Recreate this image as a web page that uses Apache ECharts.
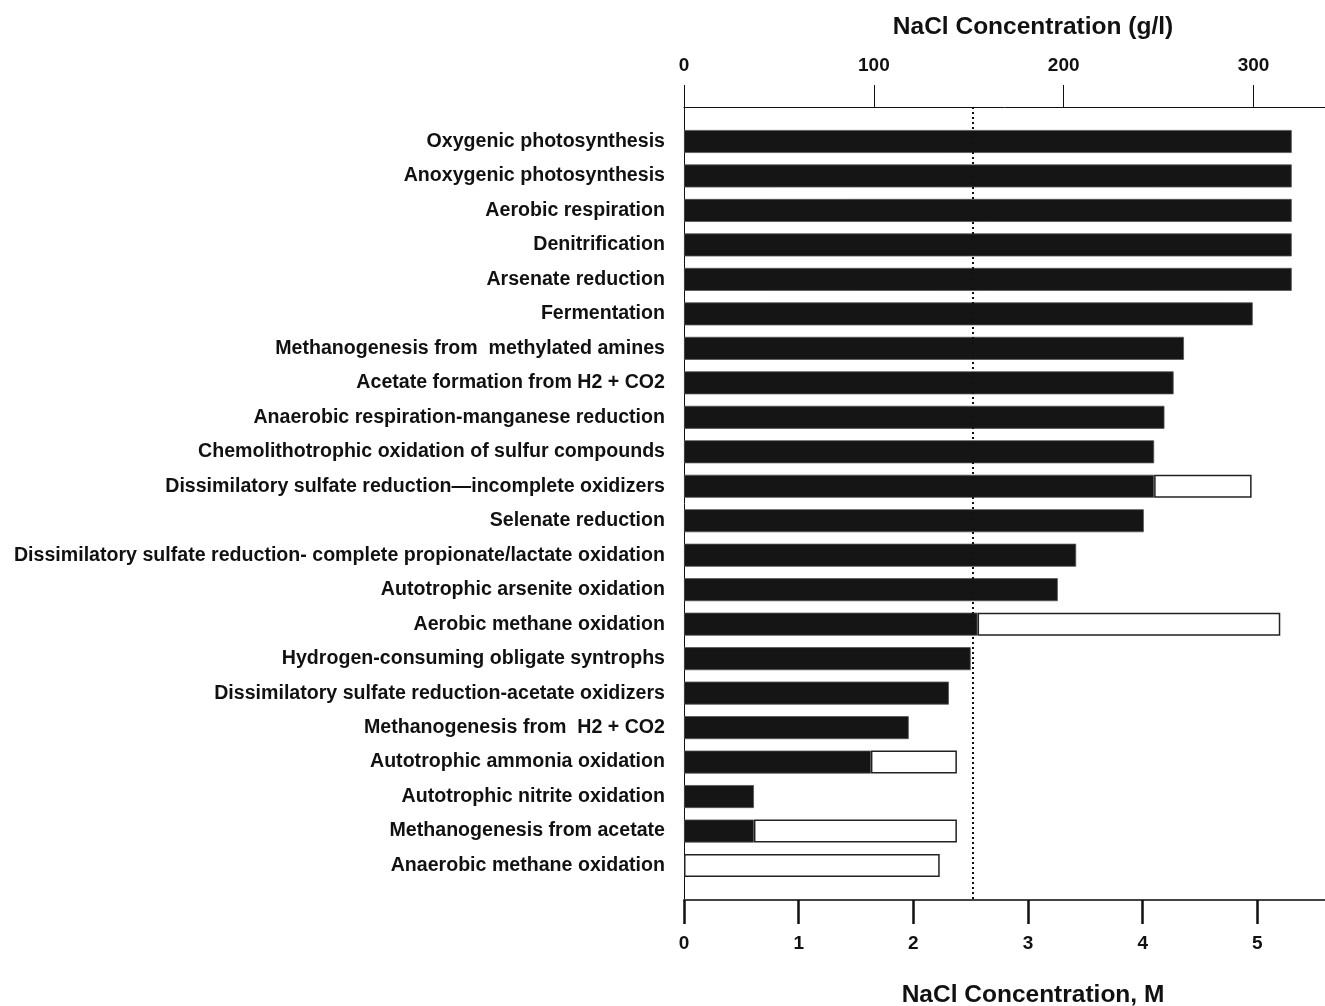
<!DOCTYPE html>
<html>
<head>
<meta charset="utf-8">
<script src="https://cdn.jsdelivr.net/npm/echarts@6/dist/echarts.min.js"></script>
<style>
html,body{margin:0;padding:0;background:#fff;}
#chart{width:1325px;height:1006px;}
</style>
</head>
<body>
<div id="chart"></div>
<script>
// Processes (top to bottom)
const categories = [
  "Oxygenic photosynthesis",
  "Anoxygenic photosynthesis",
  "Aerobic respiration",
  "Denitrification",
  "Arsenate reduction",
  "Fermentation",
  "Methanogenesis from  methylated amines",
  "Acetate formation from H2 + CO2",
  "Anaerobic respiration-manganese reduction",
  "Chemolithotrophic oxidation of sulfur compounds",
  "Dissimilatory sulfate reduction\u2014incomplete oxidizers",
  "Selenate reduction",
  "Dissimilatory sulfate reduction- complete propionate/lactate oxidation",
  "Autotrophic arsenite oxidation",
  "Aerobic methane oxidation",
  "Hydrogen-consuming obligate syntrophs",
  "Dissimilatory sulfate reduction-acetate oxidizers",
  "Methanogenesis from  H2 + CO2",
  "Autotrophic ammonia oxidation",
  "Autotrophic nitrite oxidation",
  "Methanogenesis from acetate",
  "Anaerobic methane oxidation"
];
// Upper NaCl limit (M) confirmed in culture (black bars)
const cultureLimit = [5.30, 5.30, 5.30, 5.30, 5.30, 4.96, 4.36, 4.27, 4.19, 4.10, 4.10, 4.01, 3.42, 3.26, 2.56, 2.50, 2.31, 1.96, 1.63, 0.61, 0.61, 0];
// Upper NaCl limit (M) from activity measurements (end of open bars), null = none
const activityLimit = [null, null, null, null, null, null, null, null, null, null, 4.95, null, null, null, 5.20, null, null, null, 2.38, null, 2.38, 2.23];
const bottomTicks = [0, 1, 2, 3, 4, 5];
const topTicks = [0, 100, 200, 300];
const gPerM = 60.4;        // conversion used between the two axes
const refLine = 2.52;      // dotted reference line (M)
const maxM = 5.59;

const font = "'Liberation Sans',Arial,sans-serif";

const padCats = [''].concat(categories, ['']);
const blackData = [null].concat(cultureLimit.map(v => v > 0 ? v : null), [null]);
const whiteData = [null].concat(activityLimit.map((v, i) => v == null ? null : +(v - cultureLimit[i]).toFixed(3)), [null]);

const chart = echarts.init(document.getElementById('chart'), null, {renderer: 'canvas'});
chart.setOption({
  animation: false,
  backgroundColor: '#fff',
  title: [
    {text: 'NaCl Concentration (g/l)', left: 1028, top: 10, textAlign: 'center',
     textStyle: {fontFamily: font, fontSize: 24.5, fontWeight: 'bold', color: '#111'}},
    {text: 'NaCl Concentration, M', left: 1028, top: 978, textAlign: 'center',
     textStyle: {fontFamily: font, fontSize: 24.5, fontWeight: 'bold', color: '#111'}}
  ],
  grid: {left: 684, right: 0, top: 107, bottom: 106, containLabel: false, outerBoundsMode: 'none'},
  xAxis: [
    {type: 'value', position: 'bottom', min: 0, max: maxM, interval: 1,
     axisLine: {show: true, lineStyle: {color: '#444', width: 2}},
     axisTick: {show: true, length: 24, customValues: bottomTicks, lineStyle: {color: '#111', width: 2.5}},
     axisLabel: {margin: 34, customValues: bottomTicks, fontFamily: font, fontSize: 19, fontWeight: 'bold', color: '#111'},
     splitLine: {show: false}},
    {type: 'value', position: 'top', min: 0, max: maxM * gPerM, interval: 100,
     axisLine: {show: true, lineStyle: {color: '#111', width: 1}},
     axisTick: {show: true, length: 22, customValues: topTicks, lineStyle: {color: '#111', width: 1}},
     axisLabel: {margin: 32, customValues: topTicks, fontFamily: font, fontSize: 19, fontWeight: 'bold', color: '#111'},
     splitLine: {show: false}}
  ],
  yAxis: {
    type: 'category', data: padCats, inverse: true, boundaryGap: false,
    axisLine: {show: true, lineStyle: {color: '#111', width: 1}},
    axisTick: {show: false},
    axisLabel: {margin: 19, fontFamily: font, fontSize: 19.6, fontWeight: 'bold', color: '#111', interval: 0}
  },
  series: [
    {type: 'bar', name: 'culture', stack: 'a', xAxisIndex: 0, data: blackData, barWidth: 23,
     itemStyle: {color: '#151515', borderColor: '#555', borderWidth: 0.8},
     markLine: {silent: true, symbol: 'none', label: {show: false},
       lineStyle: {type: [2, 3], color: '#111', width: 2},
       data: [{xAxis: refLine}]}},
    {type: 'bar', name: 'activity', stack: 'a', xAxisIndex: 0, data: whiteData, barWidth: 23,
     itemStyle: {color: '#fff', borderColor: '#222', borderWidth: 1.5}}
  ]
});
</script>
</body>
</html>
